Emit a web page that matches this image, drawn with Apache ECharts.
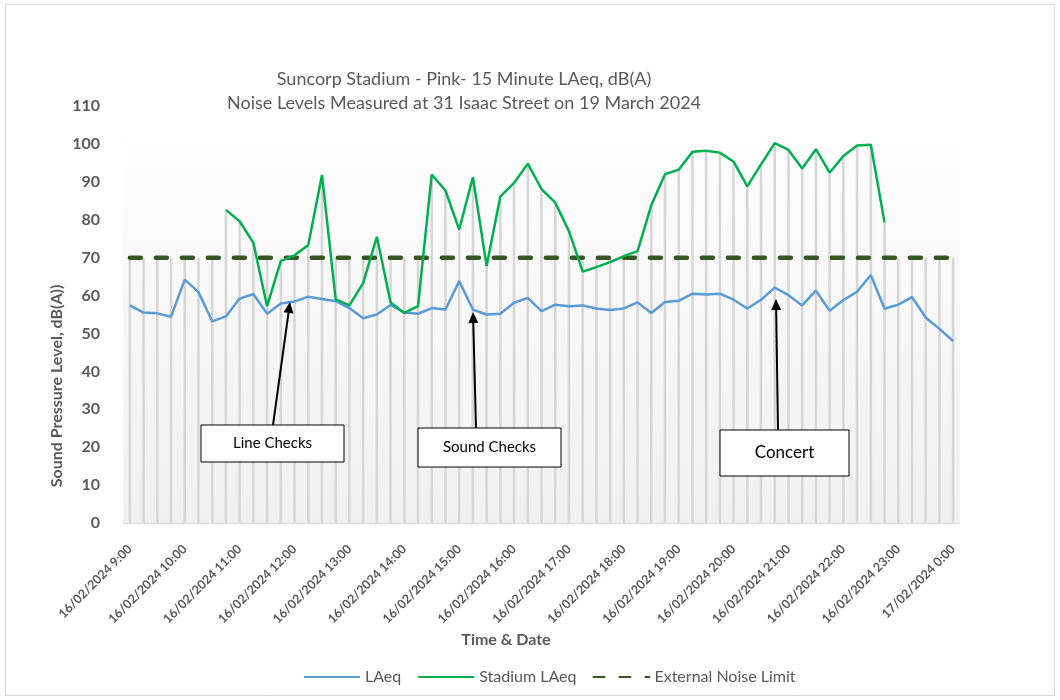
<!DOCTYPE html>
<html>
<head>
<meta charset="utf-8">
<script src="https://cdn.jsdelivr.net/npm/echarts@6/dist/echarts.min.js"></script>
<style>
html,body{margin:0;padding:0;background:#fff;}
#chart{width:1060px;height:700px;}
</style>
</head>
<body>
<div id="chart"></div>
<script>
const categories = [
"16/02/2024 9:00","16/02/2024 9:15","16/02/2024 9:30","16/02/2024 9:45",
"16/02/2024 10:00","16/02/2024 10:15","16/02/2024 10:30","16/02/2024 10:45",
"16/02/2024 11:00","16/02/2024 11:15","16/02/2024 11:30","16/02/2024 11:45",
"16/02/2024 12:00","16/02/2024 12:15","16/02/2024 12:30","16/02/2024 12:45",
"16/02/2024 13:00","16/02/2024 13:15","16/02/2024 13:30","16/02/2024 13:45",
"16/02/2024 14:00","16/02/2024 14:15","16/02/2024 14:30","16/02/2024 14:45",
"16/02/2024 15:00","16/02/2024 15:15","16/02/2024 15:30","16/02/2024 15:45",
"16/02/2024 16:00","16/02/2024 16:15","16/02/2024 16:30","16/02/2024 16:45",
"16/02/2024 17:00","16/02/2024 17:15","16/02/2024 17:30","16/02/2024 17:45",
"16/02/2024 18:00","16/02/2024 18:15","16/02/2024 18:30","16/02/2024 18:45",
"16/02/2024 19:00","16/02/2024 19:15","16/02/2024 19:30","16/02/2024 19:45",
"16/02/2024 20:00","16/02/2024 20:15","16/02/2024 20:30","16/02/2024 20:45",
"16/02/2024 21:00","16/02/2024 21:15","16/02/2024 21:30","16/02/2024 21:45",
"16/02/2024 22:00","16/02/2024 22:15","16/02/2024 22:30","16/02/2024 22:45",
"16/02/2024 23:00","16/02/2024 23:15","16/02/2024 23:30","16/02/2024 23:45",
"17/02/2024 0:00"
];

const laeq = [
57.4,55.5,55.3,54.4,64.2,60.9,53.2,54.5,59.2,60.4,
55.2,57.9,58.4,59.7,59.1,58.5,56.7,54.0,55.0,57.5,
55.5,55.2,56.7,56.3,63.8,56.3,55.0,55.2,58.1,59.4,
55.9,57.6,57.2,57.4,56.6,56.2,56.6,58.2,55.4,58.3,
58.6,60.5,60.3,60.5,58.9,56.6,58.9,62.1,60.1,57.4,
61.3,56.0,58.8,61.0,65.4,56.5,57.6,59.6,54.2,51.2,
48.0
];

const stadiumLaeq = [
null,null,null,null,null,null,null,82.6,79.6,73.9,
57.2,69.1,70.6,73.3,91.8,59.0,57.4,63.3,75.5,58.2,
55.4,57.2,91.9,87.7,77.4,91.2,67.8,86.1,89.7,94.8,
88.1,84.5,77.0,66.3,67.5,68.8,70.4,71.7,83.8,92.0,
93.2,97.9,98.2,97.7,95.3,88.8,94.6,100.2,98.4,93.5,
98.6,92.4,96.8,99.6,99.8,79.3,null,null,null,null,
null
];

const noiseLimit = [
70,70,70,70,70,70,70,70,70,70,
70,70,70,70,70,70,70,70,70,70,
70,70,70,70,70,70,70,70,70,70,
70,70,70,70,70,70,70,70,70,70,
70,70,70,70,70,70,70,70,70,70,
70,70,70,70,70,70,70,70,70,70,
70
];

const yTicks = { min: 0, max: 110, interval: 10 };

const titleLines = [
  'Suncorp Stadium - Pink- 15 Minute LAeq, dB(A)',
  'Noise Levels Measured at 31 Isaac Street on 19 March 2024'
];

// Drop lines (Excel style): from the highest series value down to the axis
const dropTop = categories.map((c, i) =>
  Math.max(laeq[i], stadiumLaeq[i] == null ? 0 : stadiumLaeq[i], noiseLimit[i]));

const FONT = 'Lato, "Open Sans", sans-serif';
const GREY = '#595959';

const chart = echarts.init(document.getElementById('chart'), null, {renderer: 'canvas'});

function arrow(x1, y1, x2, y2) {
  const ang = Math.atan2(y2 - y1, x2 - x1);
  const L = 11, W = 5;
  const bx = x2 - L * Math.cos(ang), by = y2 - L * Math.sin(ang);
  const px = -Math.sin(ang) * W, py = Math.cos(ang) * W;
  return [
    { type: 'line', shape: { x1: x1, y1: y1, x2: bx, y2: by }, style: { stroke: '#000', lineWidth: 2 }, z: 100 },
    { type: 'polygon', shape: { points: [[x2, y2], [bx + px, by + py], [bx - px, by - py]] }, style: { fill: '#000' }, z: 100 }
  ];
}

function box(x, y, w, h, text, fs) {
  return [
    { type: 'rect', shape: { x: x, y: y, width: w, height: h }, style: { fill: '#fff', stroke: '#000', lineWidth: 1 }, z: 100 },
    { type: 'text', x: x + w / 2, y: y + h / 2, style: { text: text, fill: '#000', font: fs + 'px ' + FONT, textAlign: 'center', textVerticalAlign: 'middle' }, z: 101 }
  ];
}

const graphics = [].concat(
  [{ type: 'rect', shape: { x: 5.5, y: 4.5, width: 1049, height: 691 }, style: { fill: 'none', stroke: '#d9d9d9', lineWidth: 1 }, z: -10, silent: true }],
  [{ type: 'text', x: 464, y: 79,
     style: { text: titleLines[0], fill: GREY, font: '18px ' + FONT, textAlign: 'center', textVerticalAlign: 'middle' } },
   { type: 'text', x: 464, y: 103,
     style: { text: titleLines[1], fill: GREY, font: '18px ' + FONT, textAlign: 'center', textVerticalAlign: 'middle' } }],
  [{ type: 'text', x: 57, y: 386, rotation: Math.PI / 2,
     style: { text: 'Sound Pressure Level, dB(A))', fill: GREY, font: 'bold 16px ' + FONT, textAlign: 'center', textVerticalAlign: 'middle' } }],
  [{ type: 'text', x: 506, y: 640,
     style: { text: 'Time & Date', fill: GREY, font: 'bold 16px ' + FONT, textAlign: 'center', textVerticalAlign: 'middle' } }],
  arrow(273, 425, 290, 302),
  arrow(476, 428, 473, 312),
  arrow(778, 430, 776, 299),
  box(201, 425, 143, 37, 'Line Checks', 15),
  box(418, 428, 143, 39, 'Sound Checks', 15),
  box(720, 430, 129, 46, 'Concert', 17)
);

const option = {
  animation: false,
  backgroundColor: '#ffffff',
  legend: {
    data: ['LAeq', 'Stadium LAeq', 'External Noise Limit'],
    left: 298, top: 664,
    itemWidth: 56, itemHeight: 14, itemGap: 16,
    itemStyle: { opacity: 0 },
    textStyle: { color: GREY, fontSize: 16, fontFamily: FONT }
  },
  grid: {
    left: 123, right: 100, top: 106, bottom: 177,
    show: true, borderWidth: 0,
    backgroundColor: new echarts.graphic.LinearGradient(0, 0, 0, 1, [
      { offset: 0, color: '#ffffff' }, { offset: 1, color: '#f0f0f0' }
    ])
  },
  xAxis: {
    type: 'category',
    data: categories,
    boundaryGap: true,
    axisLine: { show: true, lineStyle: { color: '#d9d9d9', width: 1 } },
    axisTick: { show: false },
    splitLine: { show: false },
    axisLabel: {
      interval: 3, rotate: 45, margin: 24,
      color: GREY, fontSize: 12.5, fontWeight: 'bold', fontFamily: FONT
    }
  },
  yAxis: {
    type: 'value',
    min: yTicks.min, max: yTicks.max, interval: yTicks.interval,
    axisLine: { show: false }, axisTick: { show: false }, splitLine: { show: false },
    axisLabel: { color: GREY, fontSize: 16, fontWeight: 'bold', fontFamily: FONT, margin: 23 }
  },
  graphic: graphics,
  series: [
    {
      name: 'dropLines', type: 'bar', data: dropTop, barWidth: 2.5,
      itemStyle: { color: '#d6d6d6' }, silent: true, z: 1
    },
    {
      name: 'LAeq', type: 'line', data: laeq, symbol: 'none',
      lineStyle: { color: '#5b9bd5', width: 2.5 }, itemStyle: { color: '#5b9bd5' }, z: 5
    },
    {
      name: 'Stadium LAeq', type: 'line', data: stadiumLaeq, symbol: 'none', connectNulls: false,
      lineStyle: { color: '#00b050', width: 2.5 }, itemStyle: { color: '#00b050' }, z: 6
    },
    {
      name: 'External Noise Limit', type: 'line', data: noiseLimit, symbol: 'none',
      lineStyle: { color: '#375623', width: 4.5, type: [11, 15], cap: 'round' }, itemStyle: { color: '#375623' }, z: 4
    }
  ]
};
chart.setOption(option);
</script>
</body>
</html>
